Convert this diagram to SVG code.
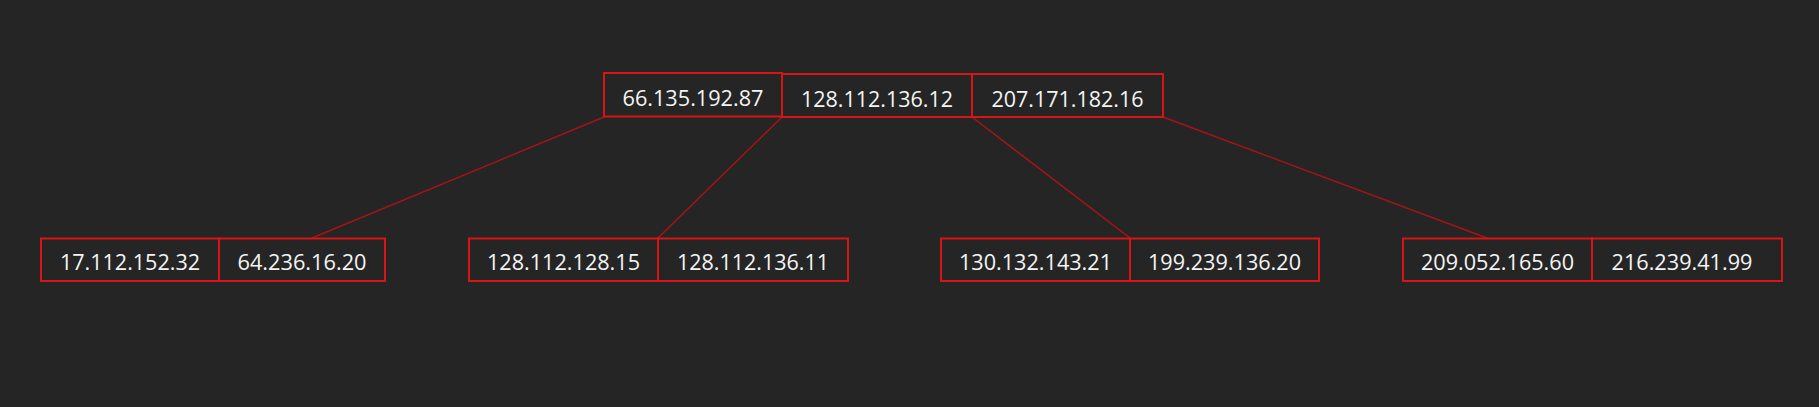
<svg xmlns="http://www.w3.org/2000/svg" width="1819" height="407" viewBox="0 0 1819 407">
<style>
.bg{fill:#252525}
.box{fill:none;stroke:#d81414;stroke-width:2}
.edge{stroke:#a81414;stroke-width:1.5;fill:none}
.t{fill:#f4f4f4;font-family:"Open Sans","Noto Sans",sans-serif;text-anchor:middle;font-size:21.5px}
</style>
<rect class="bg" width="1819" height="407"/>
<g id="connectors">
<line class="edge" x1="604" y1="117" x2="312" y2="238"/>
<line class="edge" x1="782" y1="117" x2="658" y2="238"/>
<line class="edge" x1="972" y1="117" x2="1130" y2="238"/>
<line class="edge" x1="1163" y1="117" x2="1487" y2="238"/>
</g>
<g id="root">
<rect class="box" x="604" y="73" width="178" height="43.5"/>
<text class="t" x="693" y="106" textLength="141" lengthAdjust="spacingAndGlyphs">66.135.192.87</text>
<rect class="box" x="782" y="74" width="190" height="43"/>
<text class="t" x="877" y="106.5" textLength="152" lengthAdjust="spacingAndGlyphs">128.112.136.12</text>
<rect class="box" x="972" y="74" width="191" height="43"/>
<text class="t" x="1067.5" y="106.5" textLength="152" lengthAdjust="spacingAndGlyphs">207.171.182.16</text>
</g>
<g id="leaf1">
<rect class="box" x="41" y="238.5" width="178" height="42.5"/>
<text class="t" x="130" y="270" textLength="140" lengthAdjust="spacingAndGlyphs">17.112.152.32</text>
<rect class="box" x="219" y="238.5" width="166" height="42.5"/>
<text class="t" x="302" y="270" textLength="129" lengthAdjust="spacingAndGlyphs">64.236.16.20</text>
</g>
<g id="leaf2">
<rect class="box" x="469" y="238.5" width="189" height="42.5"/>
<text class="t" x="563.5" y="270" textLength="153" lengthAdjust="spacingAndGlyphs">128.112.128.15</text>
<rect class="box" x="658" y="238.5" width="190" height="42.5"/>
<text class="t" x="753" y="270" textLength="152" lengthAdjust="spacingAndGlyphs">128.112.136.11</text>
</g>
<g id="leaf3">
<rect class="box" x="941" y="238.5" width="189" height="42.5"/>
<text class="t" x="1035.5" y="270" textLength="153" lengthAdjust="spacingAndGlyphs">130.132.143.21</text>
<rect class="box" x="1130" y="238.5" width="189" height="42.5"/>
<text class="t" x="1224.5" y="270" textLength="153" lengthAdjust="spacingAndGlyphs">199.239.136.20</text>
</g>
<g id="leaf4">
<rect class="box" x="1403" y="238.5" width="189" height="42.5"/>
<text class="t" x="1497.5" y="270" textLength="153" lengthAdjust="spacingAndGlyphs">209.052.165.60</text>
<rect class="box" x="1592" y="238.5" width="190" height="42.5"/>
<text class="t" x="1682" y="270" textLength="141" lengthAdjust="spacingAndGlyphs">216.239.41.99</text>
</g>
</svg>
